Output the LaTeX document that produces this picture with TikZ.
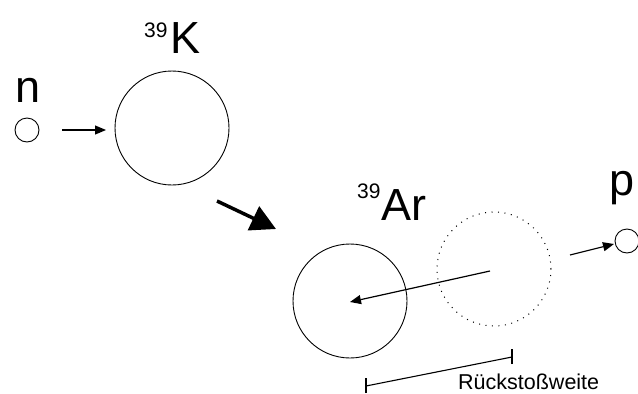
\documentclass[tikz,border=0pt]{standalone}
\usepackage{fontspec}
\setmainfont{Liberation Sans}
\usetikzlibrary{arrows.meta}
\begin{document}
\begin{tikzpicture}[x=1pt,y=-1pt,
  nucleus/.style={draw,circle,line width=0.9pt,inner sep=0pt,minimum size=114pt},
  particle/.style={draw,circle,line width=0.9pt,inner sep=0pt,minimum size=24pt},
  ghost/.style={draw,circle,line width=1pt,inner sep=0pt,minimum size=114pt,dash pattern=on 1pt off 5.5pt},
  big/.style={font=\fontsize{45}{45}\selectfont,inner sep=0pt,anchor=base west},
  mass/.style={font=\fontsize{21}{21}\selectfont,inner sep=0pt,anchor=base west},
  thinarrow/.style={line width=1.2pt,-{Triangle[length=11pt,width=9pt]}},
  bigarrow/.style={line width=3.5pt,-{Triangle[length=25pt,width=26pt]}}]
\useasboundingbox (0,0) rectangle (638,394);
% nodes
\node[particle] (n) at (27,130) {};
\node[big] (nlab) at (15,102) {n};
\node[nucleus] (K) at (172,128) {};
\node[mass] (k39) at (144,37) {39};
\node[big] (klab) at (170,53) {K};
\node[nucleus] (Ar) at (350,301) {};
\node[ghost] (G) at (494,269) {};
\node[mass] (ar39) at (357,198) {39};
\node[big] (arlab) at (381,220) {Ar};
\node[particle] (p) at (627,241) {};
\node[big] (plab) at (609,195) {p};
\node[font=\fontsize{21.5}{21.5}\selectfont,inner sep=0pt,anchor=base west] (rw) at (458,389) {Rückstoßweite};
% coordinates
\coordinate (a1) at (62,130);
\coordinate (a2) at (106,130);
\coordinate (b1) at (217,201);
\coordinate (b2) at (276,229);
\coordinate (c1) at (490,271);
\coordinate (c2) at (350,302);
\coordinate (d1) at (570,255);
\coordinate (d2) at (614,244);
\coordinate (e1) at (366,386);
\coordinate (e2) at (512,357);
% connectors
\draw[thinarrow] (a1) -- (a2);
\draw[bigarrow] (b1) -- (b2);
\draw[thinarrow] (c1) -- (c2);
\draw[thinarrow] (d1) -- (d2);
\draw[line width=1.1pt] (e1) -- (e2);
\draw[line width=1.1pt] ([yshift=-7pt]e1) -- ([yshift=8pt]e1);
\draw[line width=1.1pt] ([yshift=-7pt]e2) -- ([yshift=8pt]e2);
\end{tikzpicture}
\end{document}
